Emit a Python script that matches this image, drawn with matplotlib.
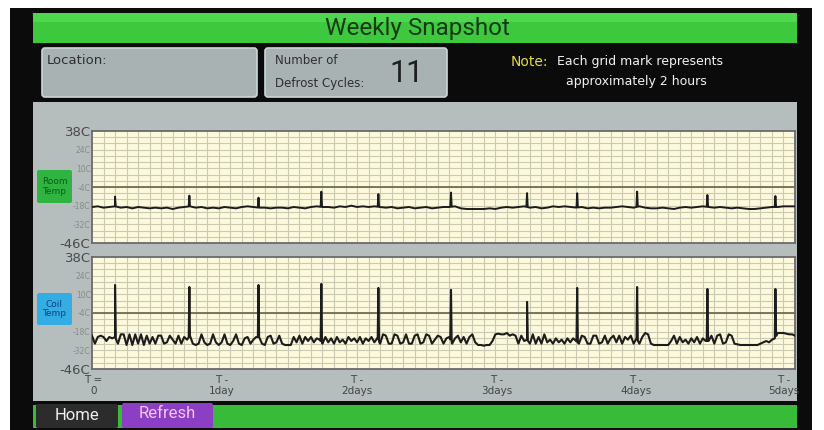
import numpy as np
import matplotlib
matplotlib.use("Agg")
import matplotlib.pyplot as plt
from matplotlib.patches import Rectangle, FancyBboxPatch
from matplotlib import font_manager

# ---------------- data ----------------
title = "Weekly Snapshot"
defrost_cycles = 11
y_ticks = [38, 24, 10, -4, -18, -32, -46]
y_tick_labels = ["38C", "24C", "10C", "-4C", "-18C", "-32C", "-46C"]
x_tick_hours = [0.2, 22.5, 46.0, 70.3, 94.4, 120.0]
x_tick_labels = ["T =\n0", "T -\n1day", "T -\n2days", "T -\n3days", "T -\n4days", "T -\n5days"]

# defrost spikes (hours after T=0)
spike_hours = [4.0, 16.9, 28.9, 39.8, 49.7, 62.3, 75.5, 84.2, 94.6, 106.8, 118.6]
room_spike_peak = [-11.2, -10.5, -12.0, -7.5, -9.3, -8.2, -8.6, -8.7, -7.5, -10.0, -10.8]
coil_spike_peak = [17.0, 15.5, 17.0, 17.8, 14.8, 13.3, 4.3, 14.8, 15.5, 14.0, 14.0]

# room temperature, hourly readings from hour 0
room_temp = [
    -19, -18.5, -19.5, -19, -18.5, -19.5, -19, -20, -19, -19.5, -20, -19.5,
    -20, -19.5, -20.5, -19.5, -19, -18.5, -19.5, -19, -20, -19.5, -20, -19,
    -19.5, -20, -19, -18.5, -19, -19.5, -19.5, -20, -19.5, -19.5, -20, -19,
    -19.5, -20, -19, -18.5, -19, -19, -19.5, -18.5, -19, -18, -19, -18.5,
    -19, -18.5, -19, -19.5, -19, -20, -19.5, -19, -20, -19.5, -19, -20,
    -19.5, -19, -19, -18.5, -20, -20.5, -20.5, -20.5, -20.5, -20, -20.5, -19.5,
    -19, -19.5, -19, -18.5, -19.5, -19, -20, -19.5, -18.5, -19, -18.5, -19,
    -19.5, -19, -20, -19.5, -20, -19.5, -19.5, -19, -18.5, -19, -19.5, -18.5,
    -19.5, -20, -20, -19.5, -20, -20.5, -19.5, -19, -19.5, -19, -18.5, -19,
    -19.5, -19, -19.5, -20, -19.5, -20, -20.5, -20.5, -20, -19.5, -19, -19,
    -18.5, -18.5, -18.5,
]
room_step_h = 1.0

# coil temperature, readings every 30 min from hour 0
coil_temp = [
    -21, -27, -22, -21, -22, -25, -22, -23,
    -22, -27, -20, -20, -28, -20, -28, -20,
    -27, -20, -28, -21, -27, -22, -27, -21,
    -21, -27, -26, -21, -24, -27, -21, -27,
    -22, -24, -21, -27, -28, -27, -20, -26,
    -28, -27, -20, -26, -28, -26, -20, -27,
    -28, -25, -20, -27, -28, -23, -22, -27,
    -24, -22, -22, -27, -28, -22, -21, -27,
    -26, -21, -27, -28, -28, -28, -22, -26,
    -21, -27, -22, -25, -22, -26, -23, -24,
    -27, -22, -26, -23, -27, -22, -26, -24,
    -27, -22, -25, -23, -26, -22, -27, -23,
    -25, -22, -26, -23, -27, -20, -21, -27,
    -27, -20, -21, -27, -26, -20, -27, -27,
    -21, -20, -27, -26, -20, -21, -27, -24,
    -21, -22, -27, -23, -22, -27, -23, -21,
    -26, -22, -27, -22, -20, -26, -28, -28,
    -28.5, -28, -28, -25, -20, -19.5, -20, -20,
    -19, -21, -20, -21, -27, -21, -25, -24,
    -27, -20, -27, -22, -27, -20, -26, -24,
    -27, -23, -26, -24, -27, -23, -26, -23,
    -25, -27, -21, -22, -27, -27, -21, -21,
    -27, -26, -21, -27, -23, -21, -26, -21,
    -27, -22, -24, -21, -27, -23, -27, -22,
    -19, -20, -27, -28, -28, -28, -28, -28,
    -28, -25, -21, -27, -22, -26, -24, -27,
    -23, -26, -22, -27, -23, -25, -25, -21,
    -27, -21, -20, -27, -26, -20, -21, -27,
    -27.5, -28, -28, -28, -28, -28, -28, -28,
    -27, -26, -25, -26, -24, -23, -19, -19,
    -19, -19.5, -20, -20, -21,
]
coil_step_h = 0.5
x_max_h = 122

# ---------------- fonts ----------------
names = {f.name for f in font_manager.fontManager.ttflist}
narrow = "Roboto" if "Roboto" in names else "DejaVu Sans"
wide = "DejaVu Sans"
plt.rcParams["font.family"] = [wide]

W, H = 824, 430
fig = plt.figure(figsize=(W / 100, H / 100), dpi=100, facecolor="white")

bg = fig.add_axes([0, 0, 1, 1])
bg.set_xlim(0, W)
bg.set_ylim(H, 0)
bg.axis("off")


def rect(x0, y0, x1, y1, fc, ec="none", lw=0, z=1):
    bg.add_patch(Rectangle((x0, y0), x1 - x0, y1 - y0, fc=fc, ec=ec, lw=lw, zorder=z))


def rbox(x0, y0, x1, y1, fc, ec="none", lw=0, r=3, z=2):
    bg.add_patch(FancyBboxPatch((x0 + r, y0 + r), x1 - x0 - 2 * r, y1 - y0 - 2 * r,
                                boxstyle=f"round,pad={r}", fc=fc, ec=ec, lw=lw, zorder=z))


# black panel
rect(10, 8, 812, 430, "#0b0b0b")
# title bar
rect(33, 13, 797, 43, "#3ec83e", z=2)
rect(33, 13, 797, 22, "#4fd64f", z=2)
bg.text(417, 29, title, ha="center", va="center", fontsize=17.5, color="#183818",
        family=[narrow, wide], zorder=5)

# info boxes
rbox(42, 48, 257, 97, "#a9b2b2", ec="#cdd5d5", lw=1.2)
bg.text(47, 61, "Location:", ha="left", va="center", fontsize=9.5, color="#2e2e2e", zorder=5)
rbox(265, 48, 447, 97, "#a9b2b2", ec="#cdd5d5", lw=1.2)
bg.text(275, 61, "Number of", ha="left", va="center", fontsize=8.5, color="#2e2e2e", zorder=5)
bg.text(275, 84, "Defrost Cycles:", ha="left", va="center", fontsize=8.5, color="#2e2e2e", zorder=5)
bg.text(407, 73, str(defrost_cycles), ha="center", va="center", fontsize=22, color="#1e1e1e",
        family=[narrow, wide], zorder=5)

bg.text(511, 62, "Note:", ha="left", va="center", fontsize=10, color="#e3dc34", zorder=5)
bg.text(557, 62, "Each grid mark represents", ha="left", va="center", fontsize=9, color="#f2f2f2", zorder=5)
bg.text(636, 82, "approximately 2 hours", ha="center", va="center", fontsize=9, color="#f2f2f2", zorder=5)

# chart panel
rect(33, 102, 797, 401, "#b5bdbd", z=1)

# label badges
rbox(37, 170, 72, 203, "#2fb442", r=2)
bg.text(54.5, 186.5, "Room\nTemp", ha="center", va="center", fontsize=6.5, color="#0d5a1c",
        linespacing=1.0, zorder=5)
rbox(37, 293, 72, 325, "#33aee4", r=2)
bg.text(54.5, 309, "Coil\nTemp", ha="center", va="center", fontsize=6.5, color="#0c3d86",
        linespacing=1.0, zorder=5)

# bottom bar
rect(33, 405, 797, 428, "#38bb38", z=2)
rbox(36, 404, 118, 428, "#2c2c2c", r=2, z=3)
bg.text(77, 415, "Home", ha="center", va="center", fontsize=12, color="#f0f0f0",
        family=[narrow, wide], zorder=5)
rbox(122, 403, 213, 428, "#8c3fc4", r=2, z=3)
bg.text(167, 414, "Refresh", ha="center", va="center", fontsize=12, color="#f3c6f3",
        family=[narrow, wide], zorder=5)


def with_spikes(step, vals, peaks):
    t = np.arange(len(vals)) * step
    v = np.asarray(vals, float)
    pts = list(zip(t, v))
    for s, p in zip(spike_hours, peaks):
        pts.append((s - 0.12, float(np.interp(s - 0.12, t, v))))
        pts.append((s, p))
        pts.append((s + 0.12, float(np.interp(s + 0.12, t, v))))
    pts.sort()
    return np.array([a for a, _ in pts]), np.array([b for _, b in pts])


def make_axes(bottom_px, top_px):
    ax = fig.add_axes([92 / W, 1 - bottom_px / H, (795 - 92) / W, (bottom_px - top_px) / H])
    ax.set_facecolor("#fcf9dd")
    ax.set_xlim(0, x_max_h)
    ax.set_ylim(-46, 38)
    for gx in np.arange(2, x_max_h, 2):
        ax.axvline(gx, color="#cacab2", lw=0.8, zorder=1)
    for gy in np.arange(-46 + 14 / 3, 38 - 0.1, 14 / 3):
        ax.axhline(gy, color="#cacab2", lw=0.8, zorder=1)
    ax.axhline(-4, color="#6e6e58", lw=1.3, zorder=2)
    for sp in ax.spines.values():
        sp.set_color("#6a6a6a")
        sp.set_linewidth(1.3)
    ax.set_yticks(y_ticks)
    ax.set_yticklabels(y_tick_labels)
    ax.tick_params(axis="both", length=0, pad=1)
    for i, lab in enumerate(ax.get_yticklabels()):
        if i in (0, len(y_ticks) - 1):
            lab.set_fontsize(9.5)
            lab.set_color("#4a4a4a")
        else:
            lab.set_fontsize(5.5)
            lab.set_color("#8a8a8a")
    return ax


ax1 = make_axes(243, 131)
ax1.set_xticks([])
tx, ty = with_spikes(room_step_h, room_temp, room_spike_peak)
ax1.plot(tx, ty, color="#1c1c1c", lw=1.4, zorder=3)

ax2 = make_axes(369, 257)
ax2.set_xticks(x_tick_hours)
ax2.set_xticklabels(x_tick_labels, fontsize=7.5, color="#454545", linespacing=1.15)
ax2.tick_params(axis="x", pad=4)
cx, cy = with_spikes(coil_step_h, coil_temp, coil_spike_peak)
ax2.plot(cx, cy, color="#1c1c1c", lw=1.5, zorder=3)

fig.savefig("out.png", dpi=100, facecolor="white")
